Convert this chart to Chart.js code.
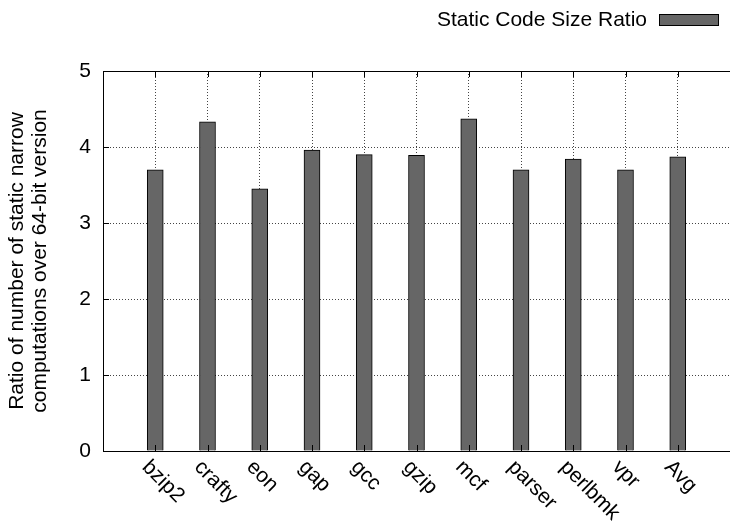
<!DOCTYPE html>
<html>
<head>
<meta charset="utf-8">
<script src="https://cdn.jsdelivr.net/npm/chart.js@4.4.1/dist/chart.umd.min.js"></script>
<style>
  html, body { margin: 0; padding: 0; background: #fff; }
  #wrap { width: 730px; height: 522px; }
</style>
</head>
<body>
<div id="wrap"><canvas id="ratioChart" width="730" height="522"></canvas></div>
<script>
// benchmarks (blank slots at both ends so the bars sit on whole positions 1..11)
const benchmarks = ["bzip2", "crafty", "eon", "gap", "gcc", "gzip", "mcf", "parser", "perlbmk", "vpr", "Avg"];
const codeSizeRatio = [3.70, 4.33, 3.45, 3.96, 3.90, 3.89, 4.37, 3.70, 3.84, 3.70, 3.87];
const yTicks = [0, 1, 2, 3, 4, 5];
const seriesName = "Static Code Size Ratio";
const yTitle = ["Ratio of number of static narrow", "computations over 64-bit version"];

const labels = [""].concat(benchmarks, [""]);
const values = [null].concat(codeSizeRatio, [null]);

const font = "Liberation Sans, Arial, Helvetica, sans-serif";

// frame, inward tick marks, rotated labels and the legend
const frame = {
	id: "frame",
	afterDraw(chart) {
		const ctx = chart.ctx;
		const a = chart.chartArea;
		const x = chart.scales.x;
		const y = chart.scales.y;
		ctx.save();
		ctx.strokeStyle = "#000";
		ctx.lineWidth = 1;
		ctx.beginPath();
		ctx.moveTo(a.left, a.top + 0.5);
		ctx.lineTo(a.right, a.top + 0.5);
		// category ticks, top and bottom
		for (let i = 1; i <= benchmarks.length; i++) {
			const px = Math.round(x.getPixelForValue(i)) + 0.5;
			ctx.moveTo(px, a.top);
			ctx.lineTo(px, a.top + 6);
			ctx.moveTo(px, a.bottom);
			ctx.lineTo(px, a.bottom - 6);
		}
		yTicks.forEach((v) => {
			const py = Math.round(y.getPixelForValue(v)) + 0.5;
			ctx.moveTo(a.left, py);
			ctx.lineTo(a.left + 6, py);
		});
		ctx.stroke();

		// x labels, rotated down to the right
		ctx.fillStyle = "#000";
		ctx.font = "21px " + font;
		ctx.textAlign = "left";
		ctx.textBaseline = "middle";
		benchmarks.forEach((name, i) => {
			const px = x.getPixelForValue(i + 1);
			ctx.save();
			ctx.translate(px - 10, a.bottom + 13);
			ctx.rotate(Math.PI / 4);
			ctx.fillText(name, 0, 0);
			ctx.restore();
		});

		// legend: text then sample box on the right
		const ds = chart.data.datasets[0];
		ctx.font = "21px " + font;
		ctx.textAlign = "right";
		ctx.fillText(seriesName, 647, 20);
		ctx.fillStyle = ds.backgroundColor;
		ctx.fillRect(659.5, 14.5, 59, 11);
		ctx.strokeRect(659.5, 14.5, 59, 11);
		ctx.restore();
	},
};

new Chart(document.getElementById("ratioChart"), {
	type: "bar",
	data: {
		labels: labels,
		datasets: [
			{
				label: seriesName,
				data: values,
				backgroundColor: "#666666",
				borderColor: "#000000",
				borderWidth: 1,
				barThickness: 16,
			},
		],
	},
	options: {
		responsive: false,
		animation: false,
		layout: { padding: { top: 71, right: 0, left: 0, bottom: 0 } },
		plugins: {
			legend: { display: false },
			tooltip: { enabled: false },
		},
		scales: {
			x: {
				type: "category",
				offset: false,
				ticks: { display: false },
				afterFit: (s) => { s.height = 71; },
				grid: {
					offset: false,
					drawTicks: false,
					color: (c) => (c.index === 0 || c.index === labels.length - 1 ? "rgba(0,0,0,0)" : "#444"),
				},
				border: { color: "#000", width: 1, dash: [1, 2], display: true },
			},
			y: {
				min: 0,
				max: 5,
				afterFit: (s) => { s.width = 103; },
				afterBuildTicks: (s) => { s.ticks = yTicks.map((v) => ({ value: v })); },
				ticks: {
					color: "#000",
					font: { family: font, size: 21 },
					padding: 12,
				},
				grid: {
					drawTicks: false,
					color: (c) => (c.tick.value === 0 || c.tick.value === 5 ? "rgba(0,0,0,0)" : "#444"),
				},
				border: { color: "#000", width: 1, dash: [1, 2] },
				title: {
					display: true,
					text: yTitle,
					color: "#000",
					font: { family: font, size: 21, lineHeight: 1.1 },
					padding: { top: 6, bottom: 0 },
				},
			},
		},
	},
	plugins: [frame],
});
</script>
</body>
</html>
